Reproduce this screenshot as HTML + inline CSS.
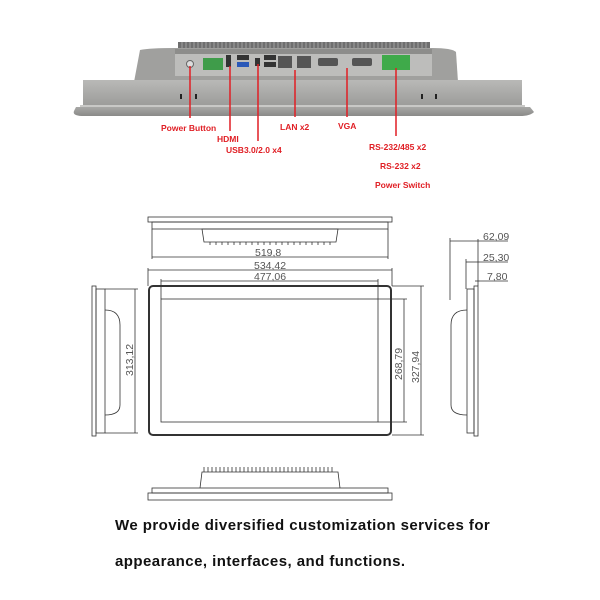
<!DOCTYPE html>
<html><head><style>
body{margin:0;width:600px;height:600px;background:#fff;overflow:hidden}
svg{display:block}
</style></head><body>
<svg width="600" height="600" viewBox="0 0 600 600" xmlns="http://www.w3.org/2000/svg">
<defs>
<linearGradient id="g1" x1="0" y1="0" x2="0" y2="1"><stop offset="0" stop-color="#b9b9b7"/><stop offset="1" stop-color="#9a9a98"/></linearGradient>
<linearGradient id="g2" x1="0" y1="0" x2="0" y2="1"><stop offset="0" stop-color="#a8a8a6"/><stop offset="1" stop-color="#8a8a88"/></linearGradient>
</defs>
<g>
<rect x="178" y="42" width="252" height="7" fill="#6f6f6f"/>
<g stroke="#9a9a9a" stroke-width="1.2">
<path d="M182 42v7M186 42v7M190 42v7M194 42v7M198 42v7M202 42v7M206 42v7M210 42v7M214 42v7M218 42v7M222 42v7M226 42v7M230 42v7M234 42v7M238 42v7M242 42v7M246 42v7M250 42v7M254 42v7M258 42v7M262 42v7M266 42v7M270 42v7M274 42v7M278 42v7M282 42v7M286 42v7M290 42v7M294 42v7M298 42v7M302 42v7M306 42v7M310 42v7M314 42v7M318 42v7M322 42v7M326 42v7M330 42v7M334 42v7M338 42v7M342 42v7M346 42v7M350 42v7M354 42v7M358 42v7M362 42v7M366 42v7M370 42v7M374 42v7M378 42v7M382 42v7M386 42v7M390 42v7M394 42v7M398 42v7M402 42v7M406 42v7M410 42v7M414 42v7M418 42v7M422 42v7M426 42v7"/>
</g>
<path d="M140 50 Q150 48 175 48 L432 48 Q452 48 456 52 L458 82 L134 82 Z" fill="#a0a09e"/>
<rect x="175" y="49" width="257" height="27" fill="#bdbdbb"/>
<rect x="175" y="49" width="257" height="5" fill="#8d8d8b"/>
<rect x="83" y="80" width="439" height="27" fill="url(#g1)"/>
<path d="M76 107 L530 107 L534 112 Q530 116 520 116 L84 116 Q72 116 74 111 Z" fill="url(#g2)"/>
<rect x="80" y="105" width="445" height="2" fill="#c8c8c6"/>
<rect x="180" y="94" width="2" height="5" fill="#222"/><rect x="195" y="94" width="2" height="5" fill="#222"/>
<rect x="421" y="94" width="2" height="5" fill="#222"/><rect x="435" y="94" width="2" height="5" fill="#222"/>
<circle cx="190" cy="64" r="3.5" fill="#ddd" stroke="#666"/>
<rect x="203" y="58" width="20" height="12" fill="#3f9c4a"/>
<rect x="226" y="55" width="5" height="12" fill="#333"/>
<rect x="237" y="55" width="12" height="5" fill="#333"/><rect x="237" y="62" width="12" height="5" fill="#2a58b8"/>
<rect x="255" y="58" width="5" height="8" fill="#333"/>
<rect x="264" y="55" width="12" height="5" fill="#333"/><rect x="264" y="62" width="12" height="5" fill="#333"/>
<rect x="278" y="56" width="14" height="12" fill="#555"/><rect x="297" y="56" width="14" height="12" fill="#555"/>
<rect x="318" y="58" width="20" height="8" rx="2" fill="#555"/>
<rect x="352" y="58" width="20" height="8" rx="2" fill="#555"/>
<rect x="382" y="55" width="28" height="15" fill="#3faa4a"/>
<g stroke="#e01e24" stroke-width="1.5">
<line x1="190" y1="66" x2="190" y2="118"/><line x1="230" y1="66" x2="230" y2="131"/>
<line x1="258" y1="64" x2="258" y2="141"/><line x1="295" y1="70" x2="295" y2="117"/>
<line x1="347" y1="68" x2="347" y2="117"/><line x1="396" y1="68" x2="396" y2="136"/>
</g>
<g fill="#e01e24" font-family="Liberation Sans, sans-serif" font-size="8.5" font-weight="bold">
<text x="161" y="131">Power Button</text><text x="217" y="142">HDMI</text>
<text x="226" y="153">USB3.0/2.0 x4</text><text x="280" y="130">LAN x2</text>
<text x="338" y="129">VGA</text><text x="369" y="150">RS-232/485 x2</text>
<text x="380" y="169">RS-232 x2</text><text x="375" y="188">Power Switch</text>
</g>
</g>
<g fill="none" stroke="#333" stroke-width="0.8">
<rect x="148" y="217" width="244" height="5"/><rect x="152" y="222" width="236" height="7"/>
<path d="M202 229 L338 229 L336 242 L204 242 Z"/>
<line x1="152" y1="257" x2="388" y2="257"/><line x1="148" y1="270" x2="392" y2="270"/><line x1="161" y1="281" x2="378" y2="281"/>
<line x1="152" y1="229" x2="152" y2="259"/><line x1="388" y1="229" x2="388" y2="259"/>
<line x1="148" y1="268" x2="148" y2="286"/><line x1="392" y1="268" x2="392" y2="286"/>
<line x1="161" y1="279" x2="161" y2="299"/><line x1="378" y1="279" x2="378" y2="299"/>
<rect x="149" y="286" width="242" height="149" rx="4" stroke-width="2"/>
<rect x="161" y="299" width="217" height="123" stroke-width="0.8"/>
<line x1="378" y1="299" x2="407" y2="299"/><line x1="378" y1="422" x2="407" y2="422"/>
<line x1="392" y1="286" x2="424" y2="286"/><line x1="392" y1="435" x2="424" y2="435"/>
<line x1="404" y1="299" x2="404" y2="422"/><line x1="421" y1="286" x2="421" y2="435"/>
<rect x="92" y="286" width="4" height="150"/><rect x="96" y="289" width="9" height="144"/>
<path d="M105 310 Q120 310 120 325 L120 405 Q120 415 105 415"/>
<line x1="105" y1="289" x2="138" y2="289"/><line x1="105" y1="433" x2="138" y2="433"/>
<line x1="135" y1="289" x2="135" y2="433"/>
<rect x="474" y="286" width="4" height="150"/><rect x="467" y="289" width="7" height="144"/>
<path d="M467 310 Q451 310 451 325 L451 405 Q451 415 467 415"/>
<line x1="450" y1="241" x2="480" y2="241"/><line x1="450" y1="238" x2="450" y2="300"/>
<line x1="466" y1="262" x2="480" y2="262"/><line x1="466" y1="259" x2="466" y2="289"/>
<line x1="475" y1="281" x2="480" y2="281"/><line x1="478" y1="239" x2="478" y2="286"/>
<line x1="480" y1="241" x2="508" y2="241"/><line x1="480" y1="262" x2="508" y2="262"/><line x1="480" y1="281" x2="508" y2="281"/>
<rect x="148" y="493" width="244" height="7"/><rect x="152" y="488" width="236" height="5"/>
<path d="M200 488 L202 472 L338 472 L340 488"/>
</g>
<g stroke="#333" stroke-width="0.8">
<path d="M204 472 V467 M208 472 V467 M212 472 V467 M216 472 V467 M220 472 V467 M224 472 V467 M228 472 V467 M232 472 V467 M236 472 V467 M240 472 V467 M244 472 V467 M248 472 V467 M252 472 V467 M256 472 V467 M260 472 V467 M264 472 V467 M268 472 V467 M272 472 V467 M276 472 V467 M280 472 V467 M284 472 V467 M288 472 V467 M292 472 V467 M296 472 V467 M300 472 V467 M304 472 V467 M308 472 V467 M312 472 V467 M316 472 V467 M320 472 V467 M324 472 V467 M328 472 V467 M332 472 V467"/>
<path d="M210 242 V245 M216 242 V245 M222 242 V245 M228 242 V245 M234 242 V245 M240 242 V245 M246 242 V245 M252 242 V245 M258 242 V245 M264 242 V245 M270 242 V245 M276 242 V245 M282 242 V245 M288 242 V245 M294 242 V245 M300 242 V245 M306 242 V245 M312 242 V245 M318 242 V245 M324 242 V245 M330 242 V245"/>
</g>
<g fill="#555" font-family="Liberation Sans, sans-serif" font-size="10.5">
<text x="255" y="256">519,8</text><text x="254" y="269">534,42</text><text x="254" y="280">477,06</text>
<text x="483" y="240">62,09</text><text x="483" y="261">25,30</text><text x="487" y="280">7,80</text>
<text transform="translate(133 376) rotate(-90)">313,12</text>
<text transform="translate(402 380) rotate(-90)">268,79</text>
<text transform="translate(419 383) rotate(-90)">327,94</text>
</g>
<g fill="#111" font-family="Liberation Sans, sans-serif" font-size="15" font-weight="bold" letter-spacing="0.45">
<text x="115" y="530">We provide diversified customization services for</text>
<text x="115" y="566">appearance, interfaces, and functions.</text>
</g>
</svg>
</body></html>
